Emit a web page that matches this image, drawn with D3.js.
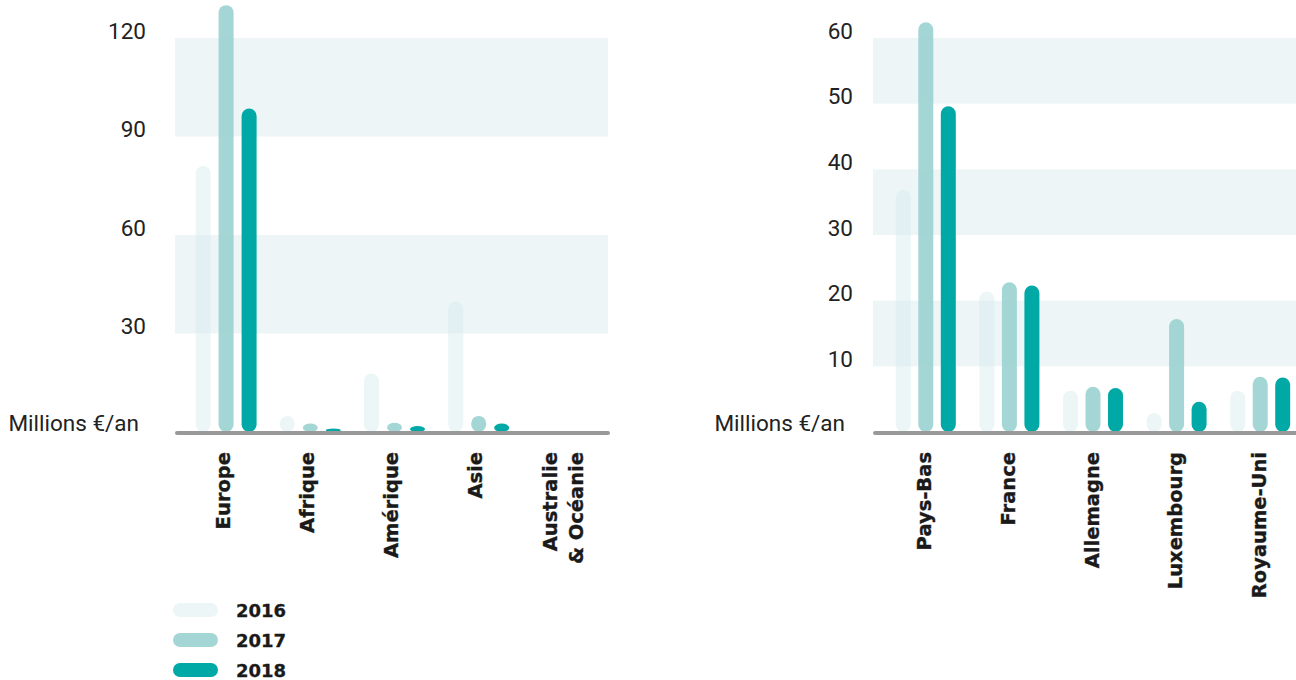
<!DOCTYPE html>
<html><head><meta charset="utf-8">
<script src="https://cdn.jsdelivr.net/npm/d3@7"></script>
<style>body{margin:0;background:#fff;overflow:hidden}</style>
</head><body>
<svg id="c" width="1296" height="680"></svg>
<script>
const years = ["2016", "2017", "2018"];
const regions = ["Europe", "Afrique", "Amérique", "Asie", "Australie & Océanie"];
const regions2016 = [81, 4.9, 17.8, 39.8, 0];
const regions2017 = [130, 2.6, 2.8, 4.9, 0];
const regions2018 = [98.5, 1.1, 1.8, 2.6, 0];
const regionTicks = [30, 60, 90, 120];
const countries = ["Pays-Bas", "France", "Allemagne", "Luxembourg", "Royaume-Uni"];
const countries2016 = [36.9, 21.4, 6.3, 2.9, 6.3];
const countries2017 = [62.4, 22.8, 6.9, 17.2, 8.4];
const countries2018 = [49.6, 22.3, 6.7, 4.6, 8.3];
const countryTicks = [10, 20, 30, 40, 50, 60];
const unitLabel = "Millions €/an";

const fills = {"2016": "#d8eaed", "2017": "#99d0d0", "2018": "#00a8a6"};
const opac = {"2016": 0.45, "2017": 0.88, "2018": 1};

const svg = d3.select("#c");

function drawChart(cfg) {
  const g = svg.append("g");
  const y = d3.scaleLinear().domain([0, cfg.max]).range([432, 38]);
  const x0 = d3.scaleBand().domain(cfg.cats).range(cfg.catRange);
  const x1 = d3.scalePoint().domain(years).range([-cfg.sub, cfg.sub]);
  const series = {"2016": cfg.s2016, "2017": cfg.s2017, "2018": cfg.s2018};

  // alternating bands
  const bands = [];
  for (let i = 0; i + 1 < cfg.ticks.length; i += 2) bands.push([cfg.ticks[i], cfg.ticks[i + 1]]);
  g.selectAll("rect.band").data(bands).join("rect")
    .attr("class", "band")
    .attr("x", cfg.bandX[0]).attr("width", cfg.bandX[1] - cfg.bandX[0])
    .attr("y", d => y(d[1])).attr("height", d => y(d[0]) - y(d[1]))
    .attr("fill", "#edf5f7");

  // tick labels
  g.selectAll("text.tick").data(cfg.ticks).join("text")
    .attr("class", "tick")
    .attr("x", cfg.tickX).attr("y", d => y(d) + 0.5)
    .attr("text-anchor", "end")
    .attr("font-family", "Roboto, sans-serif").attr("font-size", 22.5)
    .attr("fill", "#222").text(d => d);

  g.append("text").attr("x", cfg.unitX).attr("y", y(0) - 1)
    .attr("text-anchor", "end")
    .attr("font-family", "Roboto, sans-serif").attr("font-size", 22.5)
    .attr("fill", "#222").text(unitLabel);

  // bars
  const bw = 15;
  years.forEach(yr => {
    g.selectAll("rect.b" + yr).data(cfg.cats.map((c, i) => ({c, v: series[yr][i]})).filter(d => d.v > 0))
      .join("rect")
      .attr("x", d => x0(d.c) + x0.bandwidth() / 2 + x1(yr) - bw / 2)
      .attr("width", bw)
      .attr("y", d => y(d.v))
      .attr("height", d => y(0) - y(d.v))
      .attr("rx", bw / 2)
      .attr("fill", fills[yr]).attr("fill-opacity", opac[yr]);
  });

  // baseline
  g.append("line")
    .attr("x1", cfg.bandX[0] + 2).attr("x2", cfg.bandX[1])
    .attr("y1", y(0) + 1).attr("y2", y(0) + 1)
    .attr("stroke", "#999").attr("stroke-width", 4).attr("stroke-linecap", "round");

  // category labels
  cfg.cats.forEach(c => {
    const lines = c.split(" & ").map((s, i) => i > 0 ? "& " + s : s);
    const cx = x0(c) + x0.bandwidth() / 2;
    const t = g.append("text")
      .attr("transform", `translate(${cx},452) rotate(-90)`)
      .attr("text-anchor", "end")
      .attr("font-family", "'DejaVu Sans', sans-serif").attr("font-weight", "bold")
      .attr("font-size", 19.5).attr("fill", "#1a1a1a")
      .attr("stroke", "#1a1a1a").attr("stroke-width", 0.35);
    const off = lines.length > 1 ? -6 : cfg.labelOff;
    lines.forEach((s, i) => {
      t.append("tspan").attr("x", 0).attr("y", off + i * 26).text(s);
    });
  });
}

drawChart({cats: regions, s2016: regions2016, s2017: regions2017, s2018: regions2018,
  ticks: regionTicks, max: 120, bandX: [175, 608], catRange: [184, 605], sub: 23,
  tickX: 146, unitX: 139, labelOff: 3.5});

drawChart({cats: countries, s2016: countries2016, s2017: countries2017, s2018: countries2018,
  ticks: countryTicks, max: 60, bandX: [873, 1305], catRange: [884, 1302], sub: 22.5,
  tickX: 853, unitX: 845, labelOff: 5.5});

// legend
const lg = svg.append("g");
const ly = d3.scalePoint().domain(years).range([610, 670]);
lg.selectAll("rect").data(years).join("rect")
  .attr("x", 173).attr("width", 45).attr("y", d => ly(d) - 7).attr("height", 14).attr("rx", 7)
  .attr("fill", d => fills[d]).attr("fill-opacity", d => opac[d]);
lg.selectAll("text").data(years).join("text")
  .attr("x", 236).attr("y", d => ly(d) + 7)
  .attr("font-family", "'DejaVu Sans', sans-serif").attr("font-weight", "bold")
  .attr("font-size", 18).attr("fill", "#1a1a1a")
  .attr("stroke", "#1a1a1a").attr("stroke-width", 0.3).text(d => d);
</script>
</body></html>
